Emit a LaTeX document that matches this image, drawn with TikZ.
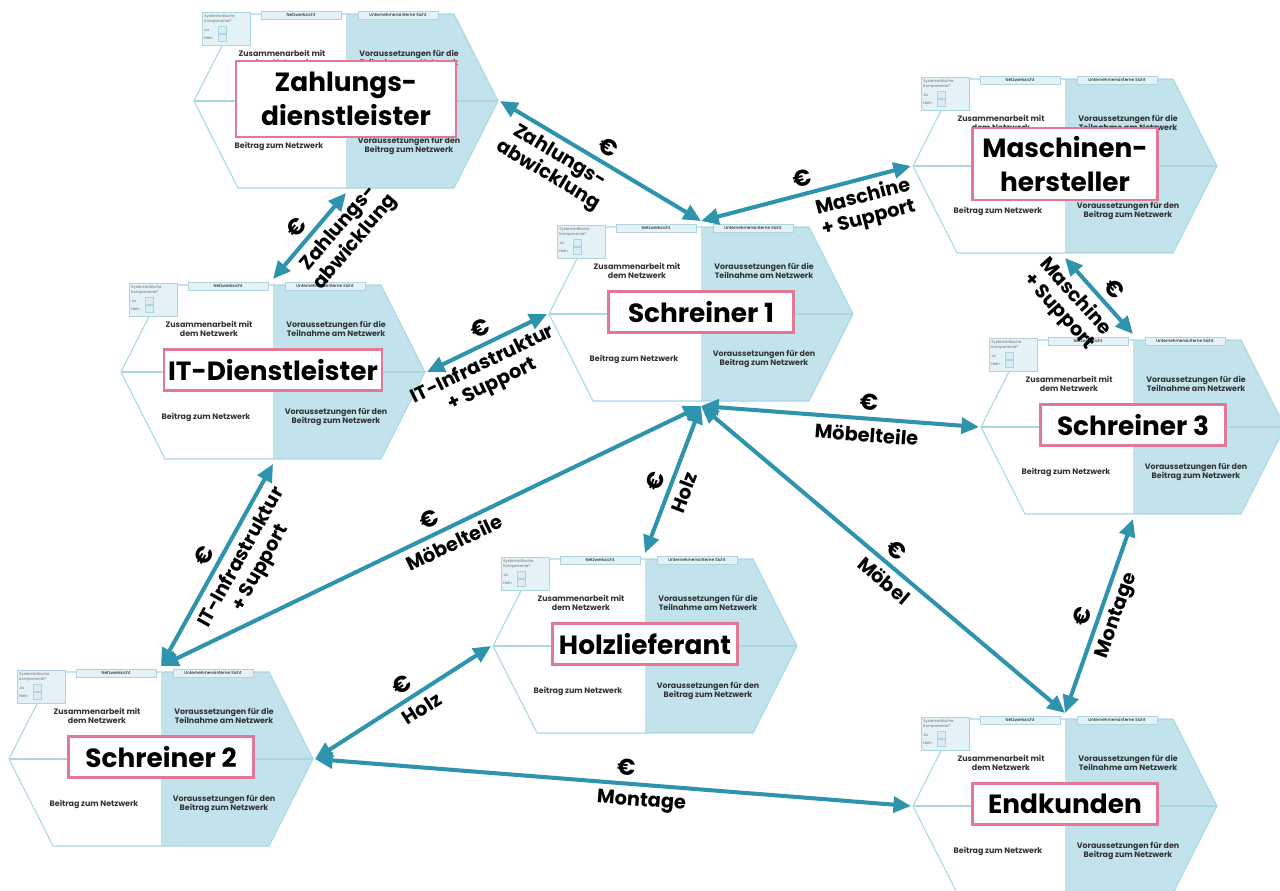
\documentclass[tikz,border=0pt]{standalone}
\usepackage{fontspec}
\setmainfont{Poppins}
\usetikzlibrary{arrows.meta}

\definecolor{hexline}{HTML}{A8D8E6}
\definecolor{hexfill}{HTML}{C2E3EC}
\definecolor{flow}{HTML}{2E93AC}
\definecolor{rahmen}{HTML}{E07896}
\definecolor{kopf}{HTML}{E4F2F7}
\definecolor{kopfline}{HTML}{B0D4DF}
\definecolor{grau}{HTML}{333333}

\tikzset{
	fluss/.style={flow, line width=2.3pt, {Triangle[length=10pt,width=9pt]}-{Triangle[length=10pt,width=9pt]}},
	akteur/.style={draw=rahmen, line width=1.3pt, fill=white, align=center, font=\fontsize{15}{19}\selectfont\bfseries, minimum width=3.7cm, minimum height=0.82cm, inner sep=2pt},
	feld/.style={align=center, text=grau, font=\fontsize{4.5}{5.5}\selectfont\bfseries},
	kopfbox/.style={draw=kopfline, fill=kopf, line width=0.4pt, minimum width=1.6cm, minimum height=0.16cm, inner sep=0pt, font=\fontsize{2.4}{3}\selectfont},
	mini/.style={inner sep=0pt, text=grau!70, font=\fontsize{2.2}{2.8}\selectfont, align=left},
	euro/.style={text=black, font=\fontsize{13}{15}\selectfont\bfseries, sloped},
	fracht/.style={text=black, font=\fontsize{11}{12.5}\selectfont\bfseries, align=center, sloped},
	hexrand/.style={hexline, line width=0.6pt}
}

\newcommand{\hexcard}[5][]{%
	\begin{scope}[shift={(#3,#4)}]
		\fill[hexfill] (0,-87) -- (108,-87) -- (152,0) -- (108,87) -- (0,87) -- cycle;
		\draw[hexrand] (-152,0) -- (-108,-87) -- (108,-87) -- (152,0) -- (108,87) -- (-108,87) -- cycle;
		\draw[hexrand] (-152,0) -- (152,0);
		\filldraw[fill=kopf, draw=kopfline, line width=0.4pt] (-144,-89) rectangle (-96,-56);
		\node[mini, anchor=north west] (#2-sk) at (-142,-87) {Systemkritische\\Komponente?};
		\node[mini, anchor=west] (#2-ja) at (-142,-71) {Ja};
		\node[mini, anchor=west] (#2-nein) at (-142,-63) {Nein};
		\filldraw[fill=kopf!70!hexfill, draw=kopfline, line width=0.3pt] (-128,-75) rectangle (-120,-68);
		\filldraw[fill=kopf!70!hexfill, draw=kopfline, line width=0.3pt] (-128,-67) rectangle (-120,-60);
		\node[kopfbox] (#2-netz) at (-45,-86) {Netzwerksicht};
		\node[kopfbox] (#2-intern) at (52,-86) {Unternehmensinterne Sicht};
		\node[feld] (#2-za) at (-64,-43) {Zusammenarbeit mit\\dem Netzwerk};
		\node[feld] (#2-vt) at (63,-43) {Voraussetzungen für die\\Teilnahme am Netzwerk};
		\node[feld] (#2-bz) at (-67,45) {Beitrag zum Netzwerk};
		\node[feld] (#2-vb) at (63,45) {Voraussetzungen für den\\Beitrag zum Netzwerk};
		\node[akteur, #1] (#2) at (0,-2) {#5};
		\coordinate (#2-n) at (0,-93);
		\coordinate (#2-s) at (0,92);
		\coordinate (#2-w) at (-154,0);
		\coordinate (#2-e) at (154,0);
	\end{scope}
}

\begin{document}
\begin{tikzpicture}[x=0.02cm, y=-0.02cm]
	\useasboundingbox (0,0) rectangle (1280,890);
	\fill[white] (0,0) rectangle (1280,890);
	\clip (0,0) rectangle (1280,890);

	\hexcard[minimum width=4.4cm, minimum height=1.52cm]{zahl}{346}{101}{Zahlungs-\\dienstleister}
	\hexcard[minimum height=1.44cm]{masch}{1065}{166}{Maschinen-\\hersteller}
	\hexcard{s1}{701}{314}{Schreiner 1}
	\hexcard[minimum width=4.35cm]{it}{273}{372}{IT-Dienstleister}
	\hexcard{s3}{1133}{427}{Schreiner 3}
	\hexcard{holz}{645}{646}{Holzlieferant}
	\hexcard{s2}{161}{759}{Schreiner 2}
	\hexcard{endk}{1065}{806}{Endkunden}

	\draw[fluss] (zahl-e) -- node[euro, above, pos=0.5] (e1) {€} node[fracht, below, pos=0.34] (t1) {Zahlungs-\\abwicklung} (s1-n);
	\draw[fluss] (s1-n) -- node[euro, above, pos=0.5] (e2) {€} node[fracht, below, pos=0.75] (t2) {Maschine\\+ Support} (masch-w);
	\draw[fluss] (it-n) -- node[euro, above, pos=0.48] (e3) {€} node[fracht, below, pos=0.72] (t3) {Zahlungs-\\abwicklung} (zahl-s);
	\draw[fluss] (it-e) -- node[euro, above, pos=0.5] (e4) {€} node[fracht, below, pos=0.4] (t4) {IT-Infrastruktur\\+ Support} (s1-w);
	\draw[fluss] (masch-s) -- node[euro, above, pos=0.55] (e5) {€} node[fracht, below, pos=0.35] (t5) {Maschine\\+ Support} (s3-n);
	\draw[fluss] (s1-s) -- node[euro, above, pos=0.6] (e6) {€} node[fracht, below, pos=0.6] (t6) {Möbelteile} (s3-w);
	\draw[fluss] (holz-n) -- node[euro, above, pos=0.45] (e7) {€} node[fracht, below, pos=0.45] (t7) {Holz} (s1-s);
	\draw[fluss] (s2-n) -- node[euro, above, pos=0.51] (e8) {€} node[fracht, below, pos=0.53] (t8) {Möbelteile} (s1-s);
	\draw[fluss] (s2-n) -- node[euro, above, pos=0.51] (e9) {€} node[fracht, below, pos=0.58] (t9) {IT-Infrastruktur\\+ Support} (it-s);
	\draw[fluss] (s2-e) -- node[euro, above, pos=0.54] (e10) {€} node[fracht, below, pos=0.56] (t10) {Holz} (holz-w);
	\draw[fluss] (s2-e) -- node[euro, above, pos=0.52] (e11) {€} node[fracht, below, pos=0.55] (t11) {Montage} (endk-w);
	\draw[fluss] (s1-s) -- node[euro, above, pos=0.51] (e12) {€} node[fracht, below, pos=0.53] (t12) {Möbel} (endk-n);
	\draw[fluss] (endk-n) -- node[euro, above, pos=0.47] (e13) {€} node[fracht, below, pos=0.53] (t13) {Montage} (s3-s);
\end{tikzpicture}
\end{document}
